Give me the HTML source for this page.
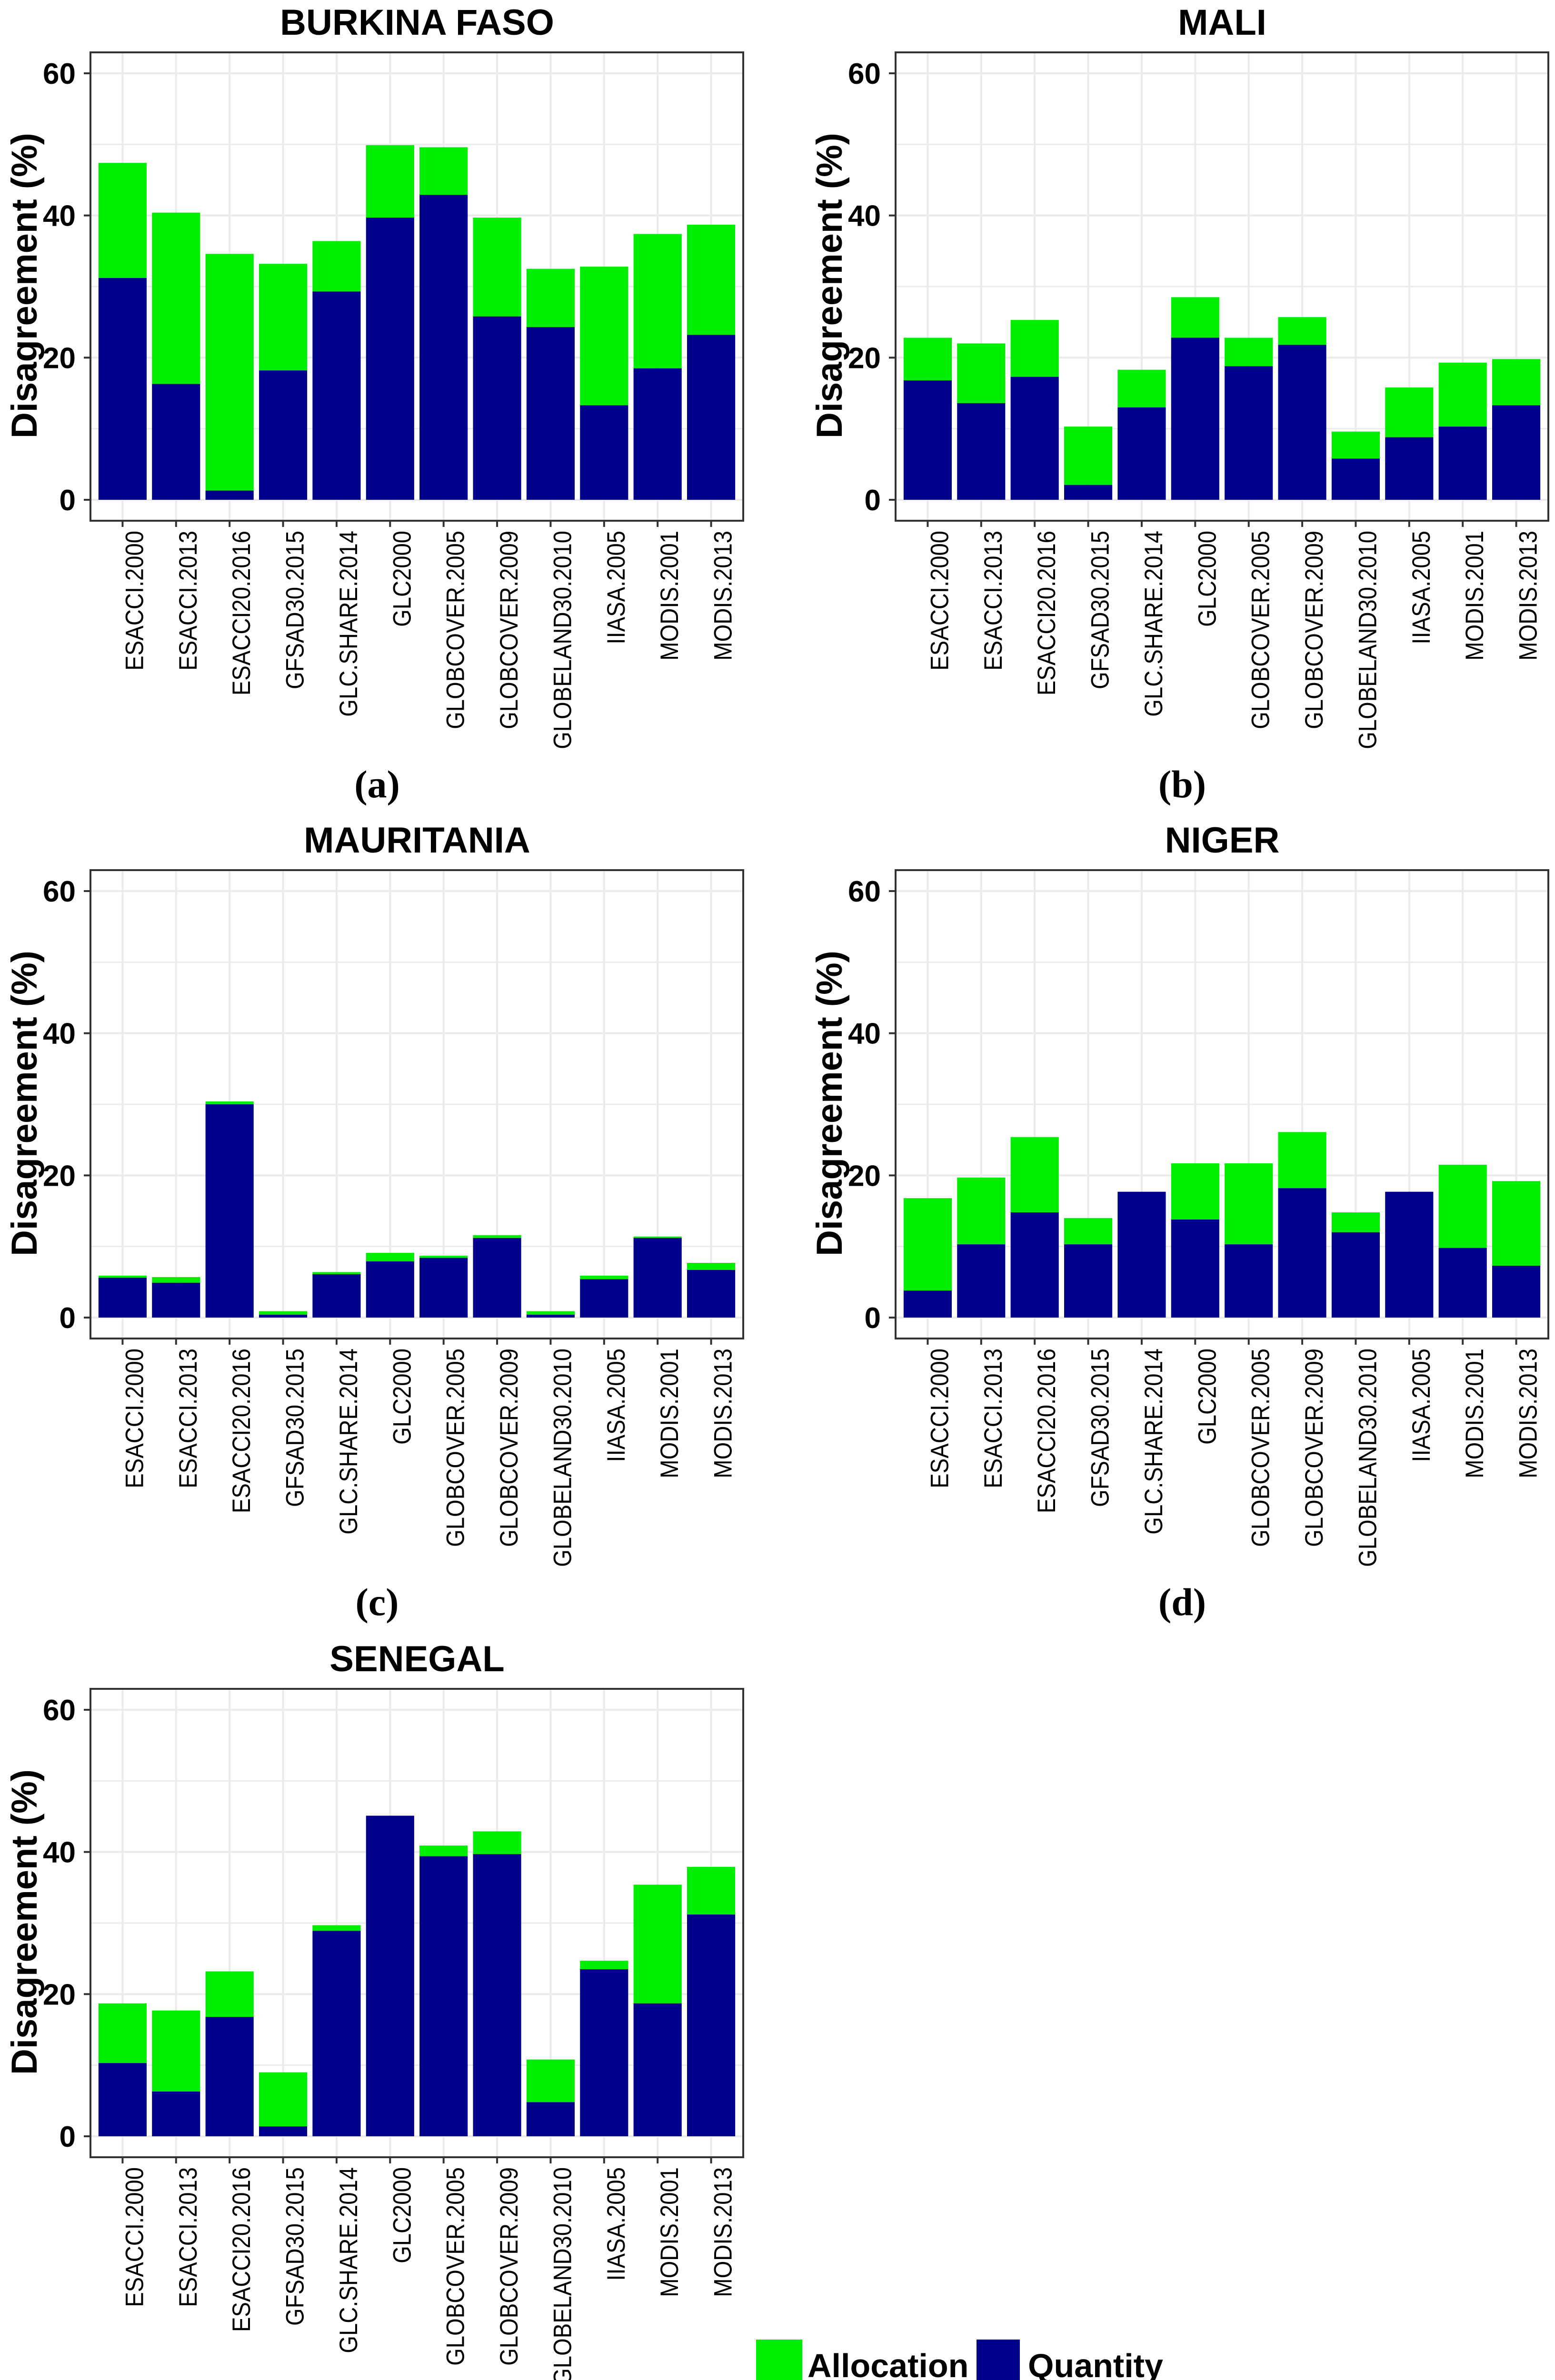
<!DOCTYPE html>
<html><head><meta charset="utf-8">
<style>
html,body{margin:0;padding:0;background:#fff;width:3266px;height:5139px;overflow:hidden;}
svg{display:block;}
</style></head>
<body>
<svg id="fig" width="3266" height="5139" viewBox="0 0 3266 5139" xmlns="http://www.w3.org/2000/svg">
  <g id="legend">
    <rect x="1588" y="4915" width="97" height="93" fill="#00ee00"/>
    <text x="1696" y="4994" font-family="Liberation Sans, sans-serif" font-weight="bold" font-size="70" fill="#000">Allocation</text>
    <rect x="2051" y="4915" width="91" height="93" fill="#00008b"/>
    <text x="2159" y="4994" font-family="Liberation Sans, sans-serif" font-weight="bold" font-size="70" fill="#000">Quantity</text>
  </g>
</svg>
<script>
const categories = ["ESACCI.2000","ESACCI.2013","ESACCI20.2016","GFSAD30.2015","GLC.SHARE.2014","GLC2000","GLOBCOVER.2005","GLOBCOVER.2009","GLOBELAND30.2010","IIASA.2005","MODIS.2001","MODIS.2013"];
const yTicks = [0,20,40,60];
const titles = ["BURKINA FASO","MALI","MAURITANIA","NIGER","SENEGAL"];
const captions = ["(a)","(b)","(c)","(d)","(e)"];

const burkinaQuantity   = [31.2,16.3,1.3,18.2,29.3,39.7,42.9,25.8,24.3,13.3,18.5,23.2];
const burkinaAllocation = [16.2,24.1,33.3,15.0,7.1,10.2,6.7,13.9,8.2,19.5,18.9,15.5];
const maliQuantity      = [16.8,13.6,17.3,2.1,13.0,22.8,18.8,21.8,5.8,8.8,10.3,13.3];
const maliAllocation    = [6.0,8.4,8.0,8.2,5.3,5.7,4.0,3.9,3.8,7.0,9.0,6.5];
const mauritaniaQuantity   = [5.6,4.9,30.0,0.4,6.1,7.9,8.4,11.2,0.4,5.4,11.2,6.7];
const mauritaniaAllocation = [0.3,0.8,0.4,0.5,0.3,1.2,0.3,0.4,0.5,0.5,0.2,1.0];
const nigerQuantity     = [3.8,10.3,14.8,10.3,17.7,13.8,10.3,18.2,12.0,17.7,9.8,7.3];
const nigerAllocation   = [13.0,9.4,10.6,3.7,0.0,7.9,11.4,7.9,2.8,0.0,11.7,11.9];
const senegalQuantity   = [10.3,6.3,16.8,1.4,28.9,45.1,39.4,39.7,4.8,23.5,18.7,31.2];
const senegalAllocation = [8.4,11.4,6.4,7.6,0.8,0.0,1.5,3.2,6.0,1.2,16.7,6.7];

const quantitySeries = [burkinaQuantity, maliQuantity, mauritaniaQuantity, nigerQuantity, senegalQuantity];
const allocationSeries = [burkinaAllocation, maliAllocation, mauritaniaAllocation, nigerAllocation, senegalAllocation];

const NS = "http://www.w3.org/2000/svg";
const svg = document.getElementById("fig");
const offsets = [[0,0],[1691,0],[0,1718],[1691,1718],[0,3438]];
const BOX_L = 190, BOX_R = 1561, BOX_T = 110, BOX_B = 1094;
const Y0 = 1050, Y60 = 154;
const YMAX = 60;
const step = (BOX_R - BOX_L) / (categories.length - 1 + 1.2);

function mk(tag, attrs, parent) {
  const e = document.createElementNS(NS, tag);
  for (const k in attrs) e.setAttribute(k, attrs[k]);
  parent.appendChild(e);
  return e;
}

titles.forEach((title, p) => {
  const [ox, oy] = offsets[p];
  const g = mk("g", {transform: `translate(${ox},${oy})`}, svg);
  
  
  const xScale = i => BOX_L + step * (0.6 + i);
  const yScale = v => Y0 - (Y0 - Y60) * v / YMAX;

  const bg = mk("rect", {x: BOX_L, y: BOX_T, width: BOX_R - BOX_L, height: BOX_B - BOX_T, fill: "#fff"}, g);
  
  

  for (let v = 10; v <= 70; v += 20) {
    const y = yScale(v);
    if (y < BOX_T) continue;
    const l = mk("line", {x1: BOX_L, x2: BOX_R, y1: y, y2: y, stroke: "#ebebeb", "stroke-width": 3}, g);
    
    
  }
  yTicks.forEach(v => {
    const y = yScale(v);
    const l = mk("line", {x1: BOX_L, x2: BOX_R, y1: y, y2: y, stroke: "#ebebeb", "stroke-width": 4}, g);
    
    
  });
  categories.forEach((c, i) => {
    const x = xScale(i);
    const l = mk("line", {x1: x, x2: x, y1: BOX_T, y2: BOX_B, stroke: "#ebebeb", "stroke-width": 4}, g);
    
    
  });

  const q = quantitySeries[p], a = allocationSeries[p];
  const bw = step * 0.9;
  categories.forEach((c, i) => {
    const x = xScale(i) - bw / 2;
    const yq = yScale(q[i]);
    const yt = yScale(q[i] + a[i]);
    if (a[i] > 0) {
      const r = mk("rect", {x: x, y: yt, width: bw, height: yq - yt, fill: "#00ee00"}, g);
      
      
    }
    const r2 = mk("rect", {x: x, y: yq, width: bw, height: Y0 - yq, fill: "#00008b"}, g);
    
    
  });

  const frame = mk("rect", {x: BOX_L, y: BOX_T, width: BOX_R - BOX_L, height: BOX_B - BOX_T, fill: "none", stroke: "#333", "stroke-width": 4}, g);
  
  

  yTicks.forEach(v => {
    const y = yScale(v);
    const t = mk("line", {x1: BOX_L - 14, x2: BOX_L, y1: y, y2: y, stroke: "#333", "stroke-width": 4}, g);
    
    
    const tx = mk("text", {x: 159, y: y + 22, "text-anchor": "end", "font-family": "Liberation Sans, sans-serif", "font-weight": "bold", "font-size": 62, fill: "#000"}, g);
    tx.textContent = String(v);
    
    
  });

  categories.forEach((c, i) => {
    const x = xScale(i);
    const t = mk("line", {x1: x, x2: x, y1: BOX_B, y2: BOX_B + 13, stroke: "#333", "stroke-width": 4}, g);
    
    
    const tx = mk("text", {transform: `translate(${x + 43},1115) rotate(-90)`, "text-anchor": "end", "font-family": "Liberation Sans, sans-serif", "font-size": 53, fill: "#000"}, g);
    tx.textContent = c;
    
    
    const w = tx.getComputedTextLength();
    if (w > 0) {
      tx.setAttribute("textLength", (w * 0.89).toFixed(1));
      tx.setAttribute("lengthAdjust", "spacingAndGlyphs");
    }
  });

  const yt = mk("text", {transform: "translate(77,600) rotate(-90)", "text-anchor": "middle", "font-family": "Liberation Sans, sans-serif", "font-weight": "bold", "font-size": 76, fill: "#000"}, g);
  yt.textContent = "Disagreement (%)";
  
  

  const tt = mk("text", {x: 876, y: 73, "text-anchor": "middle", "font-family": "Liberation Sans, sans-serif", "font-weight": "bold", "font-size": 76, fill: "#000"}, g);
  tt.textContent = title;
  
  

  const cp = mk("text", {x: 792, y: 1675, "text-anchor": "middle", "font-family": "Liberation Serif, serif", "font-weight": "bold", "font-size": 82, fill: "#000"}, g);
  cp.textContent = captions[p];
  
  
});
</script>
</body></html>
